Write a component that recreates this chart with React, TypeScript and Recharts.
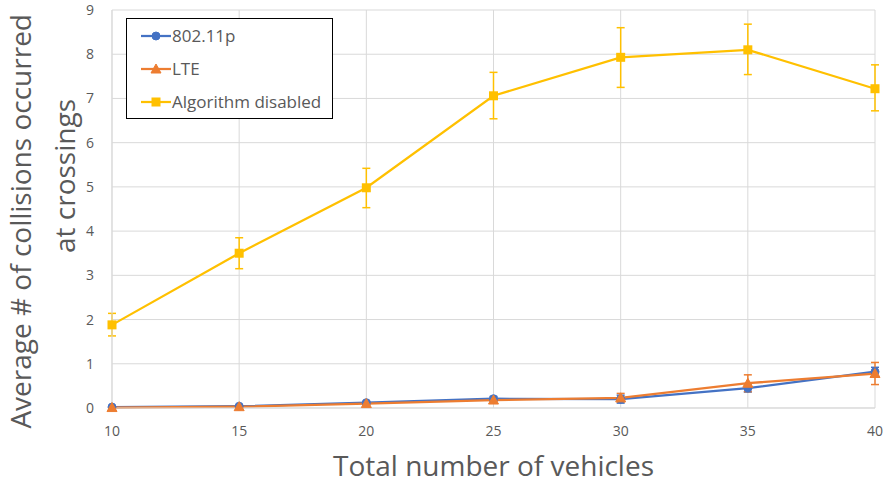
import React from 'react';
import {
  LineChart,
  Line,
  XAxis,
  YAxis,
  CartesianGrid,
  ErrorBar,
} from 'recharts';

// Vehicles per run and the average number of crossing collisions
const vehicles = [10, 15, 20, 25, 30, 35, 40];
const wave80211p = [0.02, 0.04, 0.12, 0.21, 0.2, 0.45, 0.82];
const wave80211pErr = [0.01, 0.02, 0.03, 0.05, 0.09, 0.09, 0.1];
const lte = [0.01, 0.03, 0.1, 0.18, 0.23, 0.56, 0.78];
const lteErr = [0.01, 0.02, 0.03, 0.04, 0.1, 0.19, 0.25];
const algorithmDisabled = [1.88, 3.5, 4.98, 7.06, 7.93, 8.1, 7.22];
// [below, above] the mean
const algorithmDisabledErr: [number, number][] = [
  [0.25, 0.26],
  [0.35, 0.35],
  [0.45, 0.44],
  [0.52, 0.53],
  [0.68, 0.67],
  [0.56, 0.58],
  [0.5, 0.54],
];
const xTicks = [10, 15, 20, 25, 30, 35, 40];
const yTicks = [0, 1, 2, 3, 4, 5, 6, 7, 8, 9];

const BLUE = '#4472C4';
const ORANGE = '#ED7D31';
const YELLOW = '#FFC000';
const TEXT = '#595959';
const GRID = '#d9d9d9';
const FONT = '"Open Sans", "Noto Sans", sans-serif';

const chartData = vehicles.map((v, i) => ({
  vehicles: v,
  wave: wave80211p[i],
  waveErr: wave80211pErr[i],
  lte: lte[i],
  lteErr: lteErr[i],
  alg: algorithmDisabled[i],
  algErr: algorithmDisabledErr[i],
}));

const series = [
  { key: 'wave', name: '802.11p', color: BLUE, shape: 'circle' },
  { key: 'lte', name: 'LTE', color: ORANGE, shape: 'triangle' },
  { key: 'alg', name: 'Algorithm disabled', color: YELLOW, shape: 'square' },
];

function Marker({ cx, cy, shape, color }: { cx: number; cy: number; shape: string; color: string }) {
  if (shape === 'circle') return <circle cx={cx} cy={cy} r={4} fill={color} stroke={color} />;
  if (shape === 'triangle') {
    const pts = `${cx},${cy - 5} ${cx + 5},${cy + 4} ${cx - 5},${cy + 4}`;
    return <polygon points={pts} fill={color} stroke={color} />;
  }
  return <rect x={cx - 4.5} y={cy - 4.5} width={9} height={9} fill={color} />;
}

const makeDot = (shape: string, color: string) => (props: any) => {
  const { cx, cy, index } = props;
  if (cx == null || cy == null) return <g key={index} />;
  return <Marker key={index} cx={cx} cy={cy} shape={shape} color={color} />;
};

// Boxed legend sitting in the upper-left of the plot
function LegendBox() {
  return (
    <div
      style={{
        position: 'absolute',
        left: 126,
        top: 18,
        width: 207,
        height: 101,
        border: '1px solid #000',
        background: '#fff',
        boxSizing: 'border-box',
        paddingTop: 0,
        fontFamily: FONT,
        fontSize: 17,
        color: TEXT,
      }}
    >
      {series.map((s) => (
        <div key={s.key} style={{ display: 'flex', alignItems: 'center', height: 33 }}>
          <svg width={44} height={14}>
            <line x1={14} y1={7} x2={44} y2={7} stroke={s.color} strokeWidth={2.25} />
            <Marker cx={29} cy={7} shape={s.shape} color={s.color} />
          </svg>
          <span style={{ marginLeft: 1 }}>{s.name}</span>
        </div>
      ))}
    </div>
  );
}

function YTitle(props: any) {
  const { viewBox } = props;
  const top = viewBox.y;
  return (
    <g fontFamily={FONT} fontSize={28} fill={TEXT}>
      <text transform={`translate(31, ${top + 4}) rotate(-90)`} textAnchor="end">
        Average # of collisions occurred
      </text>
      <text transform={`translate(75, 176) rotate(-90)`} textAnchor="middle">
        at crossings
      </text>
    </g>
  );
}

function XTitle(props: any) {
  const { viewBox } = props;
  return (
    <text
      x={viewBox.x + viewBox.width / 2}
      y={476}
      textAnchor="middle"
      fontFamily={FONT}
      fontSize={28}
      fill={TEXT}
    >
      Total number of vehicles
    </text>
  );
}

export default function App() {
  return (
    <div style={{ position: 'absolute', left: 0, top: 0, width: 885, height: 485, background: '#fff' }}>
      <LineChart
        width={885}
        height={485}
        data={chartData}
        margin={{ top: 10, right: 10, bottom: 0, left: 0 }}
      >
        <CartesianGrid stroke={GRID} strokeWidth={1} />
        <XAxis
          dataKey="vehicles"
          type="number"
          domain={[10, 40]}
          ticks={xTicks}
          height={77}
          stroke={GRID}
          tickLine={false}
          tickSize={0}
          tickMargin={18}
          tick={{ fill: TEXT, fontSize: 14, fontFamily: FONT }}
          label={<XTitle />}
        />
        <YAxis
          type="number"
          domain={[0, 9]}
          ticks={yTicks}
          width={112}
          stroke={GRID}
          tickLine={false}
          tickSize={0}
          tickMargin={18}
          tick={{ fill: TEXT, fontSize: 14, fontFamily: FONT }}
          label={<YTitle />}
        />
        <Line
          dataKey="wave"
          name="802.11p"
          stroke={BLUE}
          strokeWidth={2.25}
          dot={makeDot('circle', BLUE)}
          activeDot={false}
          isAnimationActive={false}
        >
          <ErrorBar dataKey="waveErr" direction="y" width={4} stroke={BLUE} strokeWidth={1.5} isAnimationActive={false} />
        </Line>
        <Line
          dataKey="lte"
          name="LTE"
          stroke={ORANGE}
          strokeWidth={2.25}
          dot={makeDot('triangle', ORANGE)}
          activeDot={false}
          isAnimationActive={false}
        >
          <ErrorBar dataKey="lteErr" direction="y" width={4} stroke={ORANGE} strokeWidth={1.5} isAnimationActive={false} />
        </Line>
        <Line
          dataKey="alg"
          name="Algorithm disabled"
          stroke={YELLOW}
          strokeWidth={2.25}
          dot={makeDot('square', YELLOW)}
          activeDot={false}
          isAnimationActive={false}
        >
          <ErrorBar dataKey="algErr" direction="y" width={4} stroke={YELLOW} strokeWidth={1.5} isAnimationActive={false} />
        </Line>
      </LineChart>
      <LegendBox />
    </div>
  );
}
